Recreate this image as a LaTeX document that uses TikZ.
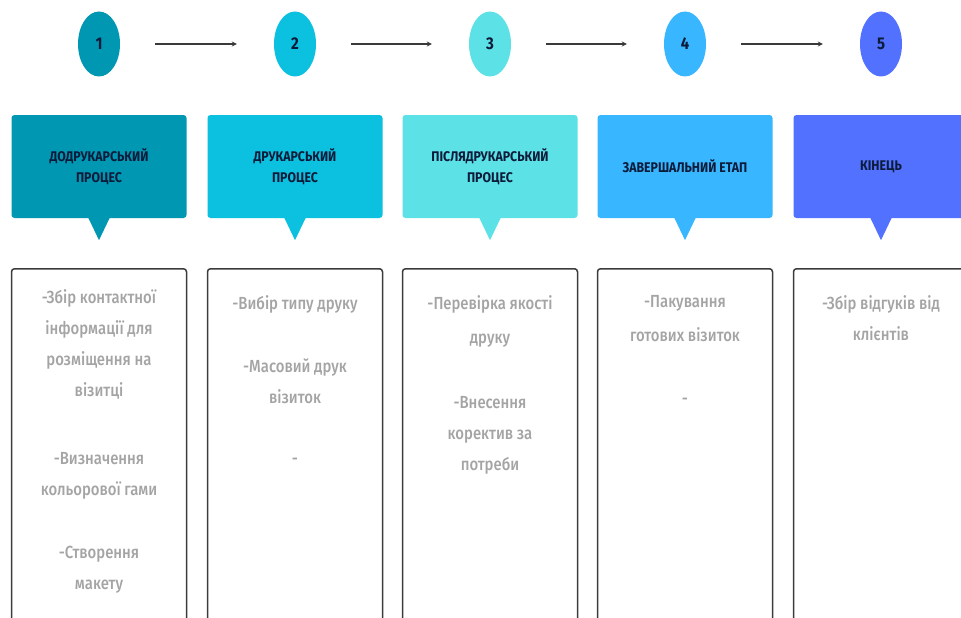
\documentclass[tikz,border=0pt]{standalone}
\usepackage{fontspec}
\setmainfont{Fira Sans}
\newfontfamily\headfont{Fira Sans}[FakeStretch=0.88]
\newfontfamily\bodyfont{Fira Sans Medium}[FakeStretch=0.85]
\usetikzlibrary{shapes.geometric,arrows.meta}
\definecolor{cA}{HTML}{0097B2}
\definecolor{cB}{HTML}{0CC0DF}
\definecolor{cC}{HTML}{5CE1E6}
\definecolor{cD}{HTML}{38B6FF}
\definecolor{cE}{HTML}{5271FF}
\definecolor{navy}{HTML}{0D1B3A}
\definecolor{arrowgray}{HTML}{3A3A3A}
\definecolor{cardgray}{HTML}{3C3C3C}
\definecolor{bodygray}{HTML}{A4A4A4}
\begin{document}
\begin{tikzpicture}[x=1pt,y=1pt,
  num/.style={ellipse, minimum width=42pt, minimum height=65pt, inner sep=0pt,
    font=\headfont\bfseries\fontsize{17}{17}\selectfont, text=navy},
  flow/.style={draw=arrowgray, line width=1.8pt, -{Stealth[length=5pt,width=5pt]},
    shorten <=35pt, shorten >=37pt},
  head/.style={rectangle, rounded corners=3pt, minimum width=175pt, minimum height=103pt,
    inner sep=0pt, align=center, text=navy,
    font=\headfont\bfseries\fontsize{14}{23}\selectfont},
  card/.style={draw=cardgray, line width=1.5pt, rounded corners=3pt, fill=white,
    minimum width=175pt, minimum height=380pt, anchor=north, inner sep=0pt},
  body/.style={anchor=north, inner sep=0pt, align=center, text=bodygray,
    font=\bodyfont\fontsize{17.5}{31}\selectfont}
]
\clip (0,0) rectangle (961,-618);
\fill[white] (0,0) rectangle (961,-618);

% circles
\node[num, fill=cA] (n1) at (99,-44) {1};
\node[num, fill=cB] (n2) at (295,-44) {2};
\node[num, fill=cC] (n3) at (490,-44) {3};
\node[num, fill=cD] (n4) at (685,-44) {4};
\node[num, fill=cE] (n5) at (881,-44) {5};

\draw[flow] (n1.east) -- (n2.west);
\draw[flow] (n2.east) -- (n3.west);
\draw[flow] (n3.east) -- (n4.west);
\draw[flow] (n4.east) -- (n5.west);

% heading boxes
\node[head, fill=cA] (h1) at (99,-166.5) {\raisebox{-2pt}{ДОДРУКАРСЬКИЙ}\\ПРОЦЕС};
\node[head, fill=cB] (h2) at (295,-166.5) {\raisebox{-2pt}{ДРУКАРСЬКИЙ}\\ПРОЦЕС};
\node[head, fill=cC] (h3) at (490,-166.5) {\raisebox{-2pt}{ПІСЛЯДРУКАРСЬКИЙ}\\ПРОЦЕС};
\node[head, fill=cD] (h4) at (685,-166.5) {ЗАВЕРШАЛЬНИЙ ЕТАП};
\node[head, fill=cE] (h5) at (881,-166.5) {КІНЕЦЬ};

\foreach \h/\c in {h1/cA,h2/cB,h3/cC,h4/cD,h5/cE}{
  \fill[\c] ([xshift=-11pt,yshift=1pt]\h.south) -- ([xshift=11pt,yshift=1pt]\h.south)
    -- ([yshift=-22pt]\h.south) -- cycle;
}

% cards
\node[card] (b1) at (99,-268) {};
\node[card] (b2) at (295,-268) {};
\node[card] (b3) at (490,-268) {};
\node[card] (b4) at (685,-268) {};
\node[card] (b5) at (881,-268) {};

\node[body] (t1) at ([yshift=-21pt]b1.north) {-Збір контактної\\інформації для\\розміщення на\\візитці\\[37pt]-Визначення\\кольорової гами\\[32pt]-Створення\\макету};
\node[body] (t2) at ([yshift=-27pt]b2.north) {-Вибір типу друку\\[32pt]-Масовий друк\\візиток\\[30pt]-};
\node[body] (t3) at ([yshift=-27pt]b3.north) {-Перевірка якості\\[3pt]друку\\[34pt]-Внесення\\коректив за\\потреби};
\node[body] (t4) at ([yshift=-27pt]b4.north) {-Пакування\\[3pt]готових візиток\\[32pt]-};
\node[body] (t5) at ([yshift=-27pt]b5.north) {-Збір відгуків від\\клієнтів};
\end{tikzpicture}
\end{document}
